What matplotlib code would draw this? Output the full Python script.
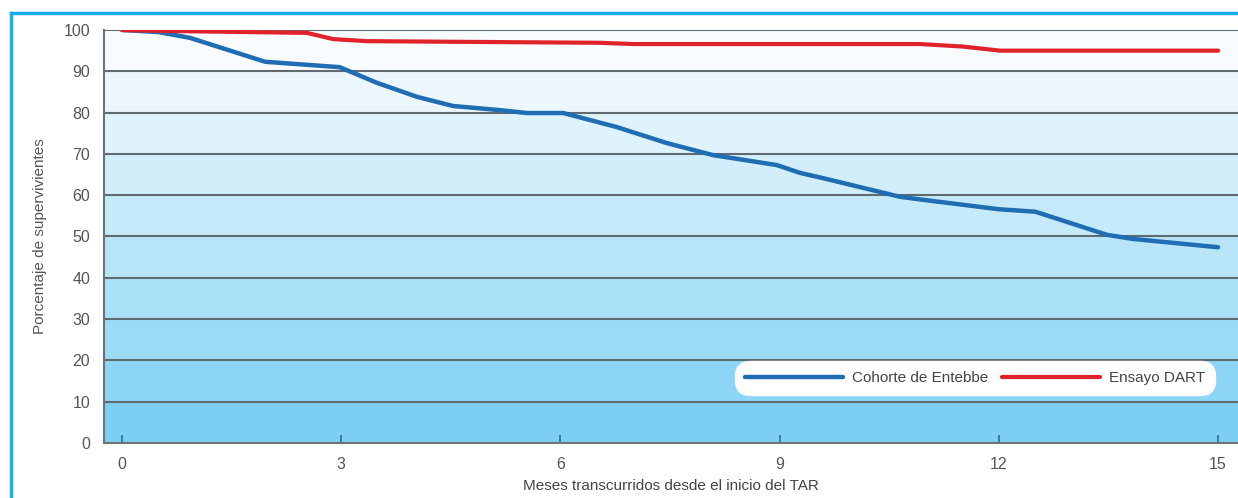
import numpy as np
import matplotlib
matplotlib.use("Agg")
import matplotlib.pyplot as plt
from matplotlib.lines import Line2D
from matplotlib.colors import to_rgb

# data
months_entebbe = [0, 0.5, 0.93, 1.96, 2.98, 3.49, 4.04, 4.53, 5.17, 5.54, 6.04,
                  6.77, 7.46, 8.09, 8.96, 9.28, 9.6, 10.65, 11.0, 12.0, 12.5,
                  13.48, 13.84, 15.0]
surv_entebbe = [100, 99.5, 98.1, 92.3, 91.0, 87.2, 83.8, 81.6, 80.6, 79.9, 79.9,
                76.5, 72.6, 69.7, 67.3, 65.4, 64.1, 59.6, 58.8, 56.6, 56.0,
                50.4, 49.4, 47.4]

months_dart = [0, 0.5, 2.53, 2.89, 3.35, 6.54, 7.0, 10.92, 11.5, 12.02, 15.0]
surv_dart = [100, 99.8, 99.3, 97.8, 97.3, 96.9, 96.6, 96.6, 96.0, 95.0, 95.0]

xticks = [0, 3, 6, 9, 12, 15]
yticks = list(range(0, 101, 10))

label_entebbe = "Cohorte de Entebbe"
label_dart = "Ensayo DART"
xlabel = "Meses transcurridos desde el inicio del TAR"
ylabel = "Porcentaje de supervivientes"

plt.rcParams['font.family'] = ['Liberation Sans', 'DejaVu Sans']
plt.rcParams['font.size'] = 11

fig = plt.figure(figsize=(12.38, 4.98), dpi=100)
ax = fig.add_axes([104/1238, 55/498, 1134/1238, 413/498])

# banded background, white at top to light blue at bottom
top = np.array(to_rgb("#f8fcfe"))
bot = np.array(to_rgb("#7ccff3"))
for i in range(10):
    t = (i / 9.0) ** 0.9
    col = bot * (1 - t) + top * t
    ax.axhspan(i*10, (i+1)*10, color=col, lw=0, zorder=0)

for y in yticks[1:]:
    ax.axhline(y, color="#5f6b70", lw=1.5, zorder=1)

ax.plot(months_entebbe, surv_entebbe, color="#1f6db3", lw=3.2,
        solid_capstyle="round", label=label_entebbe, zorder=3)
ax.plot(months_dart, surv_dart, color="#e0232b", lw=3.0,
        solid_capstyle="round", label=label_dart, zorder=3)

ax.set_xlim((104-122)/73.07, (1238-122)/73.07)
ax.set_ylim(0, 100)
ax.set_xticks(xticks)
ax.set_yticks(yticks)

for s in ["top", "right"]:
    ax.spines[s].set_visible(False)
ax.spines["left"].set_color("#6a7479")
ax.spines["bottom"].set_color("#6a7479")
ax.spines["left"].set_linewidth(1.5)
ax.spines["bottom"].set_linewidth(1.5)

ax.tick_params(axis="x", direction="in", length=6, width=1.2, color="#2a6f95",
               labelcolor="#555555", pad=10, labelsize=11.5)
ax.tick_params(axis="y", length=0, labelcolor="#555555", pad=10, labelsize=11.5)

ax.set_xlabel(xlabel, color="#444444", labelpad=5)
ax.set_ylabel(ylabel, color="#555555", labelpad=12)

leg = ax.legend(loc="lower right", bbox_to_anchor=(0.984, 0.105), ncol=2,
                frameon=True, fancybox=True, framealpha=1.0, edgecolor="white",
                handlelength=6.4, handletextpad=0.6, columnspacing=0.9,
                borderpad=0.45, fontsize=11)
leg.get_frame().set_boxstyle("round", pad=0.2, rounding_size=1.0)
for t in leg.get_texts():
    t.set_color("#444444")

# cyan frame at top and left
fig.add_artist(Line2D([11/1238, 1.0], [1-13/498, 1-13/498], color="#1aaee8", lw=2.5))
fig.add_artist(Line2D([11/1238, 11/1238], [0, 1-13/498], color="#1aaee8", lw=2.5))

fig.savefig("out.png", dpi=100)
